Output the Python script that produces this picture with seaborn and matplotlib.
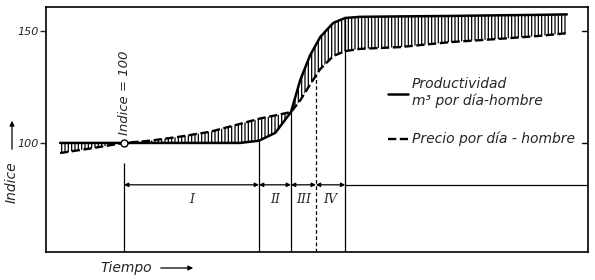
import matplotlib
matplotlib.use("Agg")
import matplotlib.pyplot as plt
from matplotlib.lines import Line2D
import seaborn as sns
import pandas as pd

# ---- data (time in arbitrary units 0-100) ----
tiempo = [2.6, 8.1, 14.4, 19.2, 24.7, 30.3, 35.8, 39.3, 42.3, 45.2, 46.9,
          48.7, 50.6, 53.0, 55.2, 57.9, 65.3, 74.5, 83.8, 91.1, 96.1]
productividad = [100, 100, 100, 100, 100, 100, 100, 101, 104.5, 113.8, 128,
                 139, 147.3, 153.6, 155.8, 156.3, 156.5, 156.7, 157, 157.2, 157.4]
precio = [95.5, 97.5, 100, 101, 102.8, 105, 108.5, 110.8, 112.3, 113.8, 119,
          126, 133, 138.8, 141, 142, 142.8, 145, 146.5, 147.8, 149]

fase_nombres = ["I", "II", "III", "IV"]
fase_limites = [14.4, 39.3, 45.2, 49.8, 55.2]
fase_alturas = [91, 101, 113.8, 131, 155.8]
nivel_flechas = 81.3
y_ticks = [100, 150]
y_tick_labels = ["100", "150"]
base_t, base_v = 14.4, 100
leyenda = ["Productividad\nm\u00b3 por d\u00eda-hombre", "Precio por d\u00eda - hombre"]

df = pd.DataFrame({"t": tiempo, "prod": productividad, "precio": precio})

sns.set_theme(style="white")
plt.rcParams["font.family"] = ["DejaVu Sans"]
plt.rcParams["font.style"] = "italic"
plt.rcParams["hatch.linewidth"] = 0.9

fig = plt.figure(figsize=(5.95, 2.8), dpi=100)
ax = fig.add_axes([46 / 595, 28 / 280, 542 / 595, 245 / 280])
ax.set_xlim(0, 100)
ax.set_ylim(51.3, 160.7)

ax.fill_between(df["t"], df["precio"], df["prod"], facecolor="none",
                edgecolor="black", hatch="|||||", linewidth=0)
sns.lineplot(data=df, x="t", y="prod", color="black", lw=1.8, ax=ax)
sns.lineplot(data=df, x="t", y="precio", color="black", lw=1.7, ax=ax,
             linestyle=(0, (3.5, 1.5)))

# phase boundary lines
for i, (xv, top) in enumerate(zip(fase_limites, fase_alturas)):
    ax.vlines(xv, 51.3, top, color="black", lw=0.9,
              linestyles=(0, (3, 2)) if i == 3 else "solid")

# arrows between boundaries
for i in range(len(fase_nombres)):
    ax.annotate("", xy=(fase_limites[i + 1], nivel_flechas),
                xytext=(fase_limites[i], nivel_flechas),
                arrowprops=dict(arrowstyle="<|-|>", lw=0.9, color="black",
                                shrinkA=0, shrinkB=0, mutation_scale=6))
    ax.text((fase_limites[i] + fase_limites[i + 1]) / 2, nivel_flechas - 6.5,
            fase_nombres[i], ha="center", va="center", fontsize=9,
            family="DejaVu Serif", style="italic")
ax.plot([fase_limites[-1], 100], [nivel_flechas, nivel_flechas],
        color="black", lw=0.9)

# index = 100 point
ax.plot([base_t], [base_v], marker="o", ms=5, mfc="white", mec="black",
        mew=1.0, zorder=5)
ax.text(base_t, 103.5, "Indice = 100", rotation=90, ha="center",
        va="bottom", fontsize=9.5)

# ticks and spines
ax.set_xticks([])
ax.set_yticks(y_ticks)
ax.set_yticklabels(y_tick_labels, fontsize=8)
ax.tick_params(axis="y", left=True, right=False, direction="out", length=4,
               width=1, pad=1)
for t_ in y_ticks:
    ax.plot([98.9, 100], [t_, t_], color="black", lw=1)
for s in ax.spines.values():
    s.set_visible(True)
    s.set_color("black")
    s.set_linewidth(1.2)
ax.set_xlabel("")
ax.set_ylabel("")

# legend
handles = [Line2D([], [], color="black", lw=1.8),
           Line2D([], [], color="black", lw=1.7, linestyle=(0, (3.5, 1.5)))]
ax.legend(handles, leyenda, loc="upper left", bbox_to_anchor=(0.62, 0.735),
          frameon=False, fontsize=10, handlelength=1.5, handletextpad=0.25,
          labelspacing=1.7, borderaxespad=0)

# axis labels with arrows
fig.text(12 / 595, 1 - 182 / 280, "Indice", rotation=90, ha="center",
         va="center", fontsize=10)
fig.text(100 / 595, 1 - 268 / 280, "Tiempo", ha="left", va="center",
         fontsize=10)
fig.add_artist(matplotlib.patches.FancyArrowPatch(
    (12 / 595, 1 - 152 / 280), (12 / 595, 1 - 118 / 280),
    transform=fig.transFigure, arrowstyle="-|>", mutation_scale=7,
    lw=0.9, color="black"))
fig.add_artist(matplotlib.patches.FancyArrowPatch(
    (158 / 595, 1 - 268 / 280), (196 / 595, 1 - 268 / 280),
    transform=fig.transFigure, arrowstyle="-|>", mutation_scale=7,
    lw=0.9, color="black"))

fig.savefig("out.png", dpi=100)
